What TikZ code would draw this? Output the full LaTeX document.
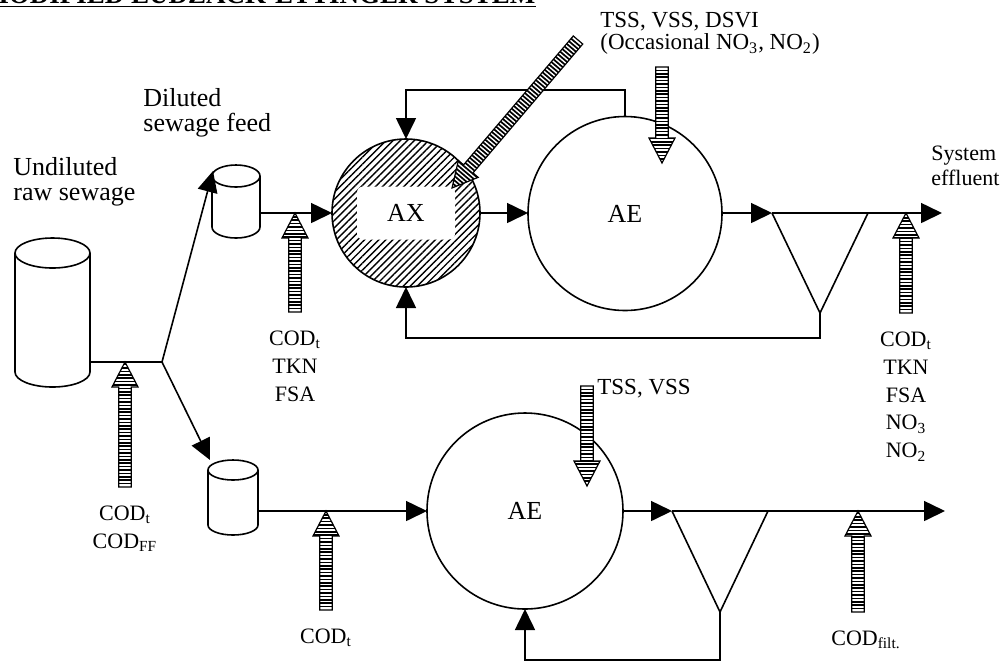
\documentclass[tikz,border=0pt]{standalone}
\usepackage{fontspec}
\setmainfont{Liberation Serif}
\usetikzlibrary{
  arrows.meta,
  positioning,
  calc,
  patterns.meta
}

% striped sampling arrow, tail #1, tip #2
\newcommand\smpshape{(0pt,-3.1pt) -- ({\smplen-12.5pt},-3.1pt) -- ({\smplen-12.5pt},-6.5pt)
  -- (\smplen,0pt) -- ({\smplen-12.5pt},6.5pt) -- ({\smplen-12.5pt},3.1pt) -- (0pt,3.1pt) -- cycle}
\newcommand\samplearrow[2]{%
  \pgfpointdiff{\pgfpointanchor{#1}{center}}{\pgfpointanchor{#2}{center}}%
  \pgfgetlastxy{\smpdx}{\smpdy}%
  \pgfmathsetlengthmacro\smplen{veclen(\smpdx,\smpdy)}%
  \pgfmathsetmacro\smpang{atan2(\smpdy,\smpdx)}%
  \pgfmathtruncatemacro\smpcount{\smplen/1.7pt}%
  \begin{scope}[shift={(#1)}, rotate=\smpang]
    \begin{scope}
      \fill[white] \smpshape;
      \clip \smpshape;
      \foreach \k in {1,...,\smpcount}
        \draw[line width=0.85pt] ({\k*1.7pt},-7pt) -- ({\k*1.7pt},7pt);
    \end{scope}
    \draw[line width=0.6pt] \smpshape;
  \end{scope}}

% tank drawn inside node #1, radii #2 and #3
\newcommand\tankoutline[3]{%
  \draw[line width=0.8pt] ([yshift=-#3]#1.north west) -- ([yshift=#3]#1.south west)
    arc[start angle=180, end angle=360, x radius=#2, y radius=#3]
    -- ([yshift=-#3]#1.north east);
  \draw[line width=0.8pt] ([yshift=-#3]#1.north) ellipse [x radius=#2, y radius=#3];}

\begin{document}
\begin{tikzpicture}[
  x=0.5pt, y=-0.5pt,
  flow/.style={
    line width=0.8pt,
    -{Triangle[length=10.5pt, width=10pt]}
  },
  pipe/.style={line width=0.8pt},
  reactor/.style={
    circle, draw, line width=0.8pt,
    inner sep=0pt, outer sep=0pt,
    font=\fontsize{13}{13}\selectfont
  },
  tankbox/.style={inner sep=0pt, outer sep=0pt},
  lbl/.style={inner sep=0pt, align=left, font=\fontsize{13}{12.5}\selectfont},
  smplbl/.style={inner sep=0pt, align=center, font=\fontsize{11}{13.9}\selectfont},
  infolbl/.style={inner sep=0pt, align=left, font=\fontsize{11.5}{11}\selectfont}
]

\fill[white] (0,0) rectangle (1002,661);
\useasboundingbox (0,0) rectangle (1002,661);
\clip (0,0) rectangle (1002,661);

% title, cut off by the page edge
\node[anchor=base west, inner sep=0pt, font=\bfseries\fontsize{13.5}{13.5}\selectfont]
  (title) at (-17,3) {MODIFIED LUDZACK-ETTINGER SYSTEM};
\draw[line width=0.7pt] ([yshift=-1.8pt]title.base west) -- ([yshift=-1.8pt]title.base east);

% tanks
\node[tankbox, minimum width=37.5pt, minimum height=74.5pt] (rawtank) at (52.5,312.5) {};
\node[tankbox, minimum width=24pt, minimum height=36.5pt] (feedtop) at (236,201.5) {};
\node[tankbox, minimum width=25pt, minimum height=37.5pt] (feedbot) at (233,497.5) {};
\tankoutline{rawtank}{18.75pt}{7.5pt}
\tankoutline{feedtop}{12pt}{5.5pt}
\tankoutline{feedbot}{12.5pt}{5pt}

% reactors
\node[reactor, minimum size=74pt,
  pattern={Lines[angle=45, distance=2.5pt, line width=0.7pt]}] (ax) at (406,213) {};
\node[fill=white, rounded corners=3pt, minimum width=49pt, minimum height=26.5pt,
  inner sep=0pt, font=\fontsize{13}{13}\selectfont] (axlbl) at (ax.center) {AX};
\node[reactor, minimum size=97pt] (ae) at (625,213.5) {AE};
\node[reactor, minimum size=98pt] (aeb) at (525,511) {AE};

% clarifiers and path points
\coordinate (cl1a) at (772,213);
\coordinate (cl1b) at (868,213);
\coordinate (cl1c) at (820,313);
\coordinate (cl2a) at (672,511);
\coordinate (cl2b) at (768,511);
\coordinate (cl2c) at (720,612);
\coordinate (out1) at (942,213);
\coordinate (out2) at (945,511);
\coordinate (split) at (162,362);
\coordinate (rettop) at (0,90);
\coordinate (ret1) at (0,338);
\coordinate (ret2) at (0,660);

\draw[pipe] (cl1a) -- (cl1c) -- (cl1b);
\draw[pipe] (cl2a) -- (cl2c) -- (cl2b);

% flows
\draw[pipe] (rawtank.east |- split) -- (split);
\draw[flow] (split) -- ([shift={(0.5pt,-3pt)}]feedtop.north west);
\draw[flow] (split) -- ([xshift=1pt]feedbot.north west);
\draw[flow] (feedtop.east |- ax.west) -- (ax.west);
\draw[flow] (ax.east) -- (ae.west |- ax.east);
\draw[flow] (ae.east |- cl1a) -- (cl1a);
\draw[flow] (cl1a) -- (out1);
\draw[flow] (ae.north) |- (rettop -| ax.north) -- (ax.north);
\draw[flow] (cl1c) -- (cl1c |- ret1) -| (ax.south);
\draw[flow] (feedbot.east |- aeb.west) -- (aeb.west);
\draw[flow] (aeb.east) -- (cl2a);
\draw[flow] (cl2a) -- (out2);
\draw[flow] (cl2c) -- (cl2c |- ret2) -| (aeb.south);

% sampling points
\coordinate (s1t) at (125,487);  \coordinate (s1h) at (125,362);
\coordinate (s2t) at (295,312);  \coordinate (s2h) at (295,213);
\coordinate (s3t) at (578,40);   \coordinate (s3h) at (452,188);
\coordinate (s4t) at (662,67);   \coordinate (s4h) at (662,163);
\coordinate (s5t) at (906,313);  \coordinate (s5h) at (906,213);
\coordinate (s6t) at (326,610);  \coordinate (s6h) at (326,511);
\coordinate (s7t) at (587,386);  \coordinate (s7h) at (587,486);
\coordinate (s8t) at (858,612);  \coordinate (s8h) at (858,511);
\foreach \s in {1,...,8}
  \samplearrow{s\s t}{s\s h};

% labels
\node[lbl, anchor=north west] (rawlbl) at (13,157) {Undiluted\\raw sewage};
\node[lbl, anchor=north west] (feedlbl) at (143,88) {Diluted\\sewage feed};
\node[lbl, anchor=north west, font=\fontsize{11}{12.5}\selectfont] (efflbl) at (931,146)
  {System\\effluent};
\node[infolbl, anchor=north west] (toplbl) at (600,12)
  {TSS, VSS, DSVI\\(Occasional NO\textsubscript{3}, NO\textsubscript{2})};
\node[infolbl, anchor=north west] (botlbl) at (597,379) {TSS, VSS};

\node[smplbl, below=9.3pt of s1t] (s1lbl) {COD\textsubscript{t}\\COD\textsubscript{FF}};
\node[smplbl, below=9.3pt of s2t] (s2lbl) {COD\textsubscript{t}\\TKN\\FSA};
\node[smplbl, below=9.3pt of s5t] (s5lbl)
  {COD\textsubscript{t}\\TKN\\FSA\\NO\textsubscript{3}\\NO\textsubscript{2}};
\node[smplbl, below=9.3pt of s6t] (s6lbl) {COD\textsubscript{t}};
\node[smplbl, below=9.3pt of s8t, xshift=4pt] (s8lbl) {COD\textsubscript{filt.}};

\end{tikzpicture}
\end{document}
